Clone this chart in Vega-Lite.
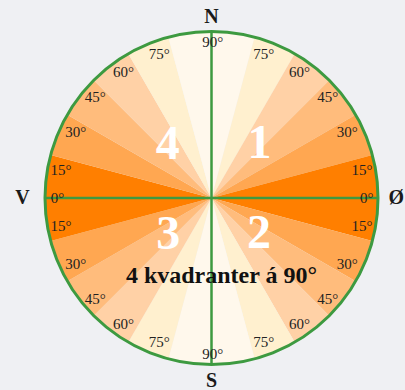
{
  "$schema": "https://vega.github.io/schema/vega-lite/v6.json",
  "autosize": {"type": "none"},
  "width": 333,
  "height": 333,
  "padding": {"left": 45, "top": 31.5, "right": 27, "bottom": 25.5},
  "background": "#eff0f3",
  "config": {"view": {"stroke": null}},
  "layer": [
    {
      "data": {"values": [
        {"a0": 0, "a1": 15, "band": 75}, {"a0": 15, "a1": 30, "band": 60}, {"a0": 30, "a1": 45, "band": 45},
        {"a0": 45, "a1": 60, "band": 30}, {"a0": 60, "a1": 75, "band": 15}, {"a0": 75, "a1": 90, "band": 0},
        {"a0": 90, "a1": 105, "band": 0}, {"a0": 105, "a1": 120, "band": 15}, {"a0": 120, "a1": 135, "band": 30},
        {"a0": 135, "a1": 150, "band": 45}, {"a0": 150, "a1": 165, "band": 60}, {"a0": 165, "a1": 180, "band": 75},
        {"a0": 180, "a1": 195, "band": 75}, {"a0": 195, "a1": 210, "band": 60}, {"a0": 210, "a1": 225, "band": 45},
        {"a0": 225, "a1": 240, "band": 30}, {"a0": 240, "a1": 255, "band": 15}, {"a0": 255, "a1": 270, "band": 0},
        {"a0": 270, "a1": 285, "band": 0}, {"a0": 285, "a1": 300, "band": 15}, {"a0": 300, "a1": 315, "band": 30},
        {"a0": 315, "a1": 330, "band": 45}, {"a0": 330, "a1": 345, "band": 60}, {"a0": 345, "a1": 360, "band": 75}
      ]},
      "mark": {"type": "arc", "outerRadius": 166.5, "stroke": null},
      "encoding": {
        "theta": {"field": "a0", "type": "quantitative", "stack": null, "scale": {"domain": [0, 360]}},
        "theta2": {"field": "a1"},
        "color": {"field": "band", "type": "ordinal", "legend": null,
          "scale": {"domain": [0, 15, 30, 45, 60, 75], "range": ["#ff7f00", "#ffa751", "#ffbc7c", "#ffd1a6", "#fff0cf", "#fff8ec"]}}
      }
    },
    {
      "data": {"values": [{"x": -1, "y": 0, "x2": 1, "y2": 0}, {"x": 0, "y": -1, "x2": 0, "y2": 1}]},
      "mark": {"type": "rule", "color": "#3d9a40", "strokeWidth": 2.5},
      "encoding": {
        "x": {"field": "x", "type": "quantitative", "scale": {"domain": [-1, 1]}, "axis": null},
        "y": {"field": "y", "type": "quantitative", "scale": {"domain": [-1, 1]}, "axis": null},
        "x2": {"field": "x2"},
        "y2": {"field": "y2"}
      }
    },
    {
      "data": {"values": [{"c": 1}]},
      "mark": {"type": "arc", "theta": 0, "theta2": 6.2832, "outerRadius": 166.5, "fill": null, "stroke": "#3d9a40", "strokeWidth": 3},
      "encoding": {}
    },
    {
      "data": {"values": [
        {"t": "90°", "ang": 0.5, "r": 0.934}, {"t": "75°", "ang": 20, "r": 0.919}, {"t": "60°", "ang": 35, "r": 0.922},
        {"t": "45°", "ang": 49, "r": 0.925}, {"t": "30°", "ang": 64, "r": 0.907}, {"t": "15°", "ang": 79.5, "r": 0.919},
        {"t": "0°", "ang": 90, "r": 0.932}, {"t": "15°", "ang": 100.5, "r": 0.919}, {"t": "30°", "ang": 116, "r": 0.907},
        {"t": "45°", "ang": 131, "r": 0.925}, {"t": "60°", "ang": 145, "r": 0.922}, {"t": "75°", "ang": 160, "r": 0.919},
        {"t": "90°", "ang": 179.5, "r": 0.934}, {"t": "75°", "ang": 200, "r": 0.919}, {"t": "60°", "ang": 215, "r": 0.922},
        {"t": "45°", "ang": 229, "r": 0.925}, {"t": "30°", "ang": 244, "r": 0.907}, {"t": "15°", "ang": 259.5, "r": 0.919},
        {"t": "0°", "ang": 270, "r": 0.925}, {"t": "15°", "ang": 280.5, "r": 0.919}, {"t": "30°", "ang": 296, "r": 0.907},
        {"t": "45°", "ang": 311, "r": 0.925}, {"t": "60°", "ang": 325, "r": 0.922}, {"t": "75°", "ang": 340, "r": 0.919}
      ]},
      "mark": {"type": "text", "font": "Liberation Serif", "fontSize": 15, "color": "#222222", "align": "center", "baseline": "middle"},
      "encoding": {
        "theta": {"field": "ang", "type": "quantitative", "stack": null, "scale": {"domain": [0, 360]}},
        "radius": {"field": "r", "type": "quantitative", "scale": {"type": "linear", "domain": [0, 1], "range": [0, 166.5], "zero": true}},
        "text": {"field": "t"}
      }
    },
    {
      "data": {"values": [
        {"t": "N", "ang": 0, "r": 1.09}, {"t": "Ø", "ang": 90, "r": 1.11},
        {"t": "S", "ang": 180, "r": 1.097}, {"t": "V", "ang": 270, "r": 1.135}
      ]},
      "mark": {"type": "text", "font": "Liberation Serif", "fontSize": 20, "fontWeight": "bold", "color": "#1a1a1a", "align": "center", "baseline": "middle"},
      "encoding": {
        "theta": {"field": "ang", "type": "quantitative", "stack": null, "scale": {"domain": [0, 360]}},
        "radius": {"field": "r", "type": "quantitative", "scale": {"type": "linear", "domain": [0, 1], "range": [0, 166.5], "zero": true}},
        "text": {"field": "t"}
      }
    },
    {
      "data": {"values": [
        {"t": "1", "ang": 41.4, "r": 0.436}, {"t": "2", "ang": 127.2, "r": 0.358},
        {"t": "3", "ang": 229.6, "r": 0.342}, {"t": "4", "ang": 320.6, "r": 0.414}
      ]},
      "mark": {"type": "text", "font": "Liberation Serif", "fontSize": 48, "fontWeight": "bold", "color": "#ffffff", "align": "center", "baseline": "middle"},
      "encoding": {
        "theta": {"field": "ang", "type": "quantitative", "stack": null, "scale": {"domain": [0, 360]}},
        "radius": {"field": "r", "type": "quantitative", "scale": {"type": "linear", "domain": [0, 1], "range": [0, 166.5], "zero": true}},
        "text": {"field": "t"}
      }
    },
    {
      "data": {"values": [{"t": "4 kvadranter á 90°", "ang": 172.7, "r": 0.472}]},
      "mark": {"type": "text", "font": "Liberation Serif", "fontSize": 24, "fontWeight": "bold", "color": "#111111", "align": "center", "baseline": "middle"},
      "encoding": {
        "theta": {"field": "ang", "type": "quantitative", "stack": null, "scale": {"domain": [0, 360]}},
        "radius": {"field": "r", "type": "quantitative", "scale": {"type": "linear", "domain": [0, 1], "range": [0, 166.5], "zero": true}},
        "text": {"field": "t"}
      }
    }
  ]
}
